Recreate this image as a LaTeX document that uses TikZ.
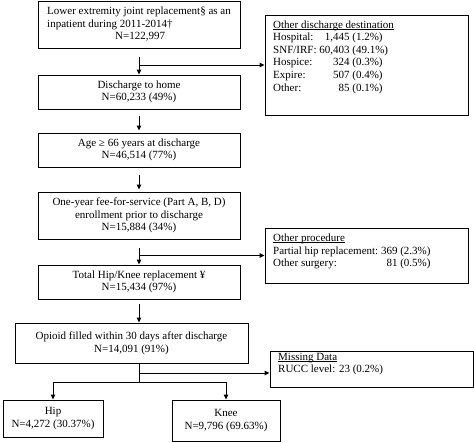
\documentclass[tikz,border=0pt]{standalone}
\usepackage{fontspec}
\setmainfont{Liberation Serif}
\usetikzlibrary{arrows.meta}
\newcommand{\myul}[1]{\setbox0\hbox{#1}\rlap{\rule[-1.6pt]{\wd0}{0.6pt}}\box0}
\begin{document}
\begin{tikzpicture}[x=1pt,y=-1pt,
  box/.style={draw, line width=0.9pt, inner sep=0pt, align=center, font=\fontsize{11}{12.6}\selectfont},
  txt/.style={inner sep=0pt, align=left, anchor=west, font=\fontsize{11}{12.6}\selectfont},
  arr/.style={line width=0.9pt, -{Triangle[length=5pt,width=4.5pt]}},
  ln/.style={line width=0.9pt}]
\useasboundingbox (0,0) rectangle (474,442);
% main column
\node[box, minimum width=202pt, minimum height=47pt] (b1) at (139,24.5)
  {\begin{tabular}{@{}l@{}}Lower extremity joint replacement§ as an\\inpatient during 2011-2014†\\\hspace*{68pt}N=122,997\end{tabular}};
\node[box, minimum width=202pt, minimum height=34pt] (b2) at (139,92) {Discharge to home\\N=60,233 (49\%)};
\node[box, minimum width=202pt, minimum height=34pt] (b3) at (139,150) {Age ≥ 66 years at discharge\\N=46,514 (77\%)};
\node[box, minimum width=202pt, minimum height=47pt] (b4) at (139,215.5) {One-year fee-for-service (Part A, B, D)\\enrollment prior to discharge\\N=15,884 (34\%)};
\node[box, minimum width=202pt, minimum height=34pt] (b5) at (139,282) {Total Hip/Knee replacement ¥\\N=15,434 (97\%)};
\node[box, minimum width=233pt, minimum height=40pt] (b6) at (131.5,343) {Opioid filled within 30 days after discharge\\N=14,091 (91\%)};
\node[box, minimum width=100pt, minimum height=37pt] (hip) at (53,418.5) {Hip\\N=4,272 (30.37\%)};
\node[box, minimum width=108pt, minimum height=41pt] (knee) at (226,420.5) {Knee\\N=9,796 (69.63\%)};
% side boxes
\node[box, minimum width=203pt, minimum height=100pt] (oth) at (366.5,65) {};
\node[txt] (othtxt) at (273,57) {%
  \begin{tabular}{@{}l@{\ }r@{\ }l@{}}
  \multicolumn{3}{@{}l@{}}{\myul{Other discharge destination}}\\
  Hospital: & 1,445 & (1.2\%)\\
  SNF/IRF: & 60,403 & (49.1\%)\\
  Hospice: & 324 & (0.3\%)\\
  Expire: & 507 & (0.4\%)\\
  Other: & 85 & (0.1\%)
  \end{tabular}};
\node[box, minimum width=203pt, minimum height=55pt] (proc) at (366.5,255.5) {};
\node[txt] (proctxt) at (273,251.5) {%
  \begin{tabular}{@{}l@{\ }r@{}}
  \multicolumn{2}{@{}l@{}}{\myul{Other procedure}}\\
  Partial hip replacement: & 369 (2.3\%)\\
  Other surgery: & 81 (0.5\%)
  \end{tabular}};
\node[box, minimum width=203pt, minimum height=36pt] (miss) at (371.5,369) {};
\node[txt] (misstxt) at (278,364) {\myul{Missing Data}\\RUCC level: 23 (0.2\%)};
% connectors
\coordinate (s1) at (139,57);
\draw[arr] (s1) -- (b2.north);
\draw[arr] (s1 |- oth.west) -- (oth.west);
\draw[arr, shorten <=7pt, shorten >=2pt] (b2.south) -- (b3.north);
\draw[arr, shorten <=8pt, shorten >=2pt] (b3.south) -- (b4.north);
\coordinate (s4) at (139,248);
\draw[arr] (s4) -- (b5.north);
\draw[arr] (s4 |- proc.west) -- (proc.west);
\coordinate (s5) at (139,304);
\draw[arr] (s5) -- (s5 |- b6.north);
\coordinate (m1) at (139,373);
\coordinate (br) at (139,382);
\draw[ln] (br |- b6.south) -- (br);
\draw[arr] (m1) -- (miss.west |- m1);
\draw[ln] (hip.north |- br) -- (knee.north |- br);
\draw[arr] (hip.north |- br) -- (hip.north);
\draw[arr] (knee.north |- br) -- (knee.north);
\end{tikzpicture}
\end{document}
